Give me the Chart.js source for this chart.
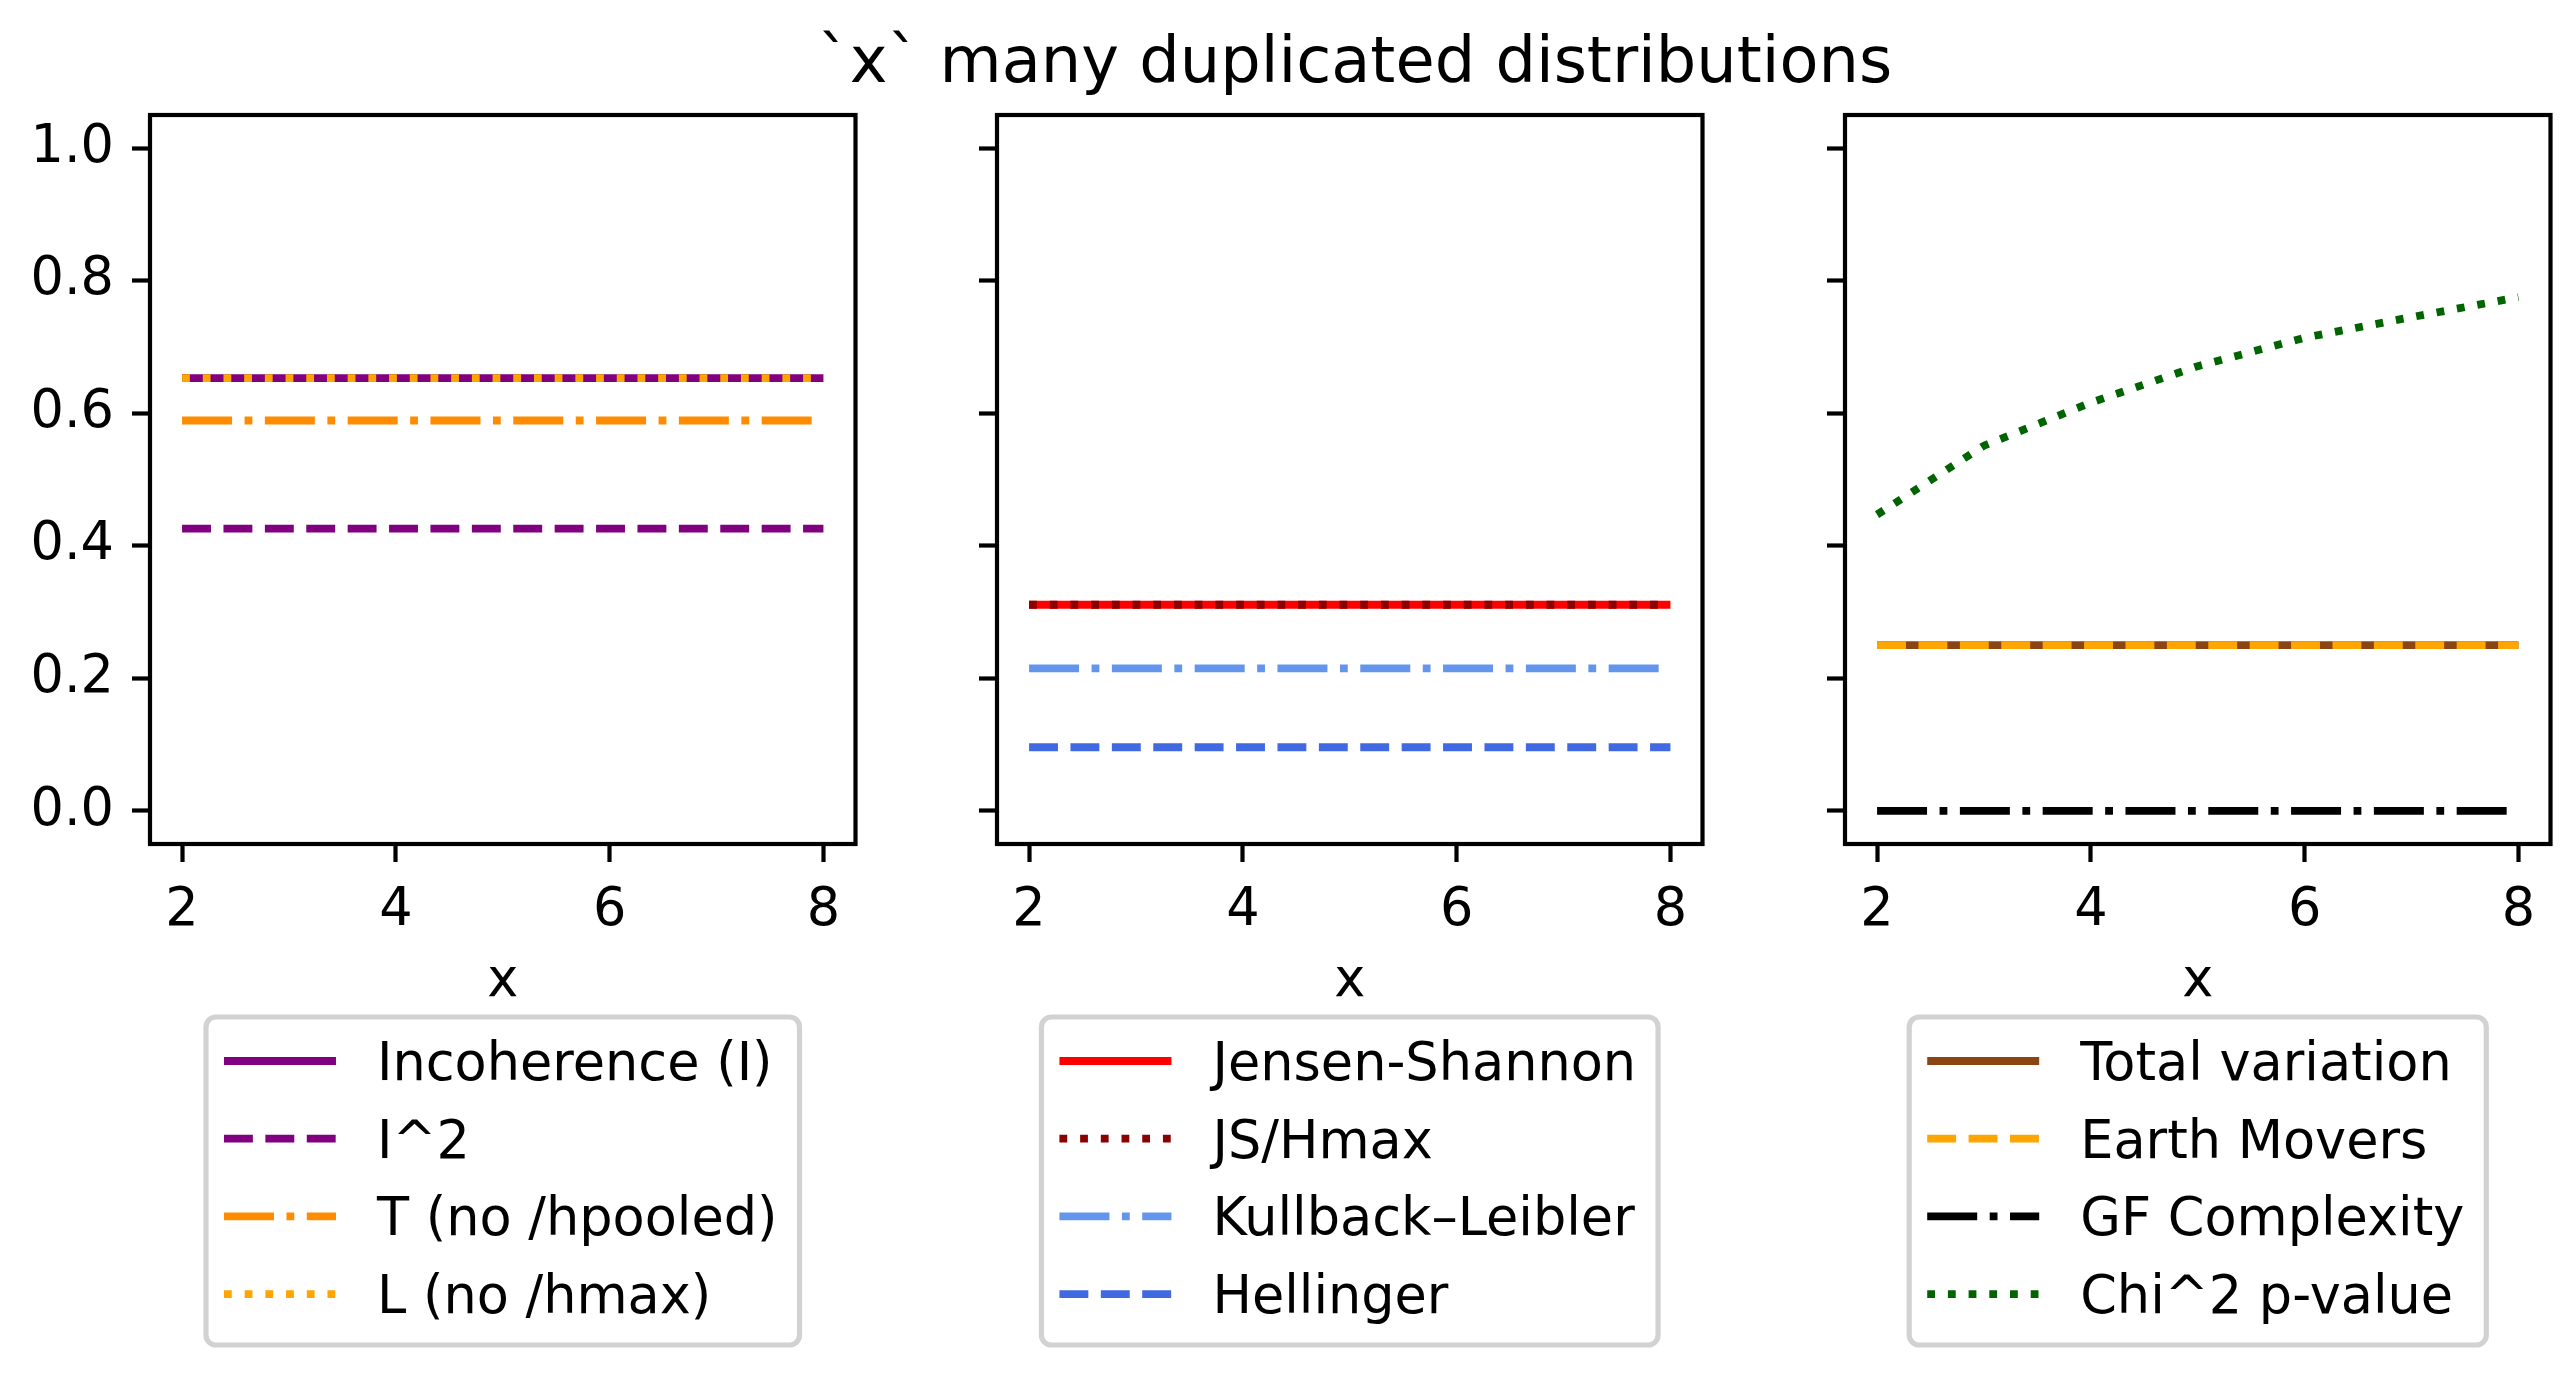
<!DOCTYPE html>
<html>
<head>
<meta charset="utf-8">
<title>`x` many duplicated distributions</title>
<script src="https://cdn.jsdelivr.net/npm/chart.js@4.4.1/dist/chart.umd.min.js"></script>
<style>
  html, body { margin: 0; padding: 0; background: #fff; }
  #wrap { position: relative; width: 2572px; height: 1375px; }
  #wrap canvas { position: absolute; left: 0; top: 0; }
</style>
</head>
<body>
<div id="wrap">
  <canvas id="c1" width="2572" height="1375"></canvas>
  <canvas id="c2" width="2572" height="1375"></canvas>
  <canvas id="c3" width="2572" height="1375"></canvas>
</div>
<script>
// valori
var xValues = [2, 3, 4, 5, 6, 7, 8];
var xTicks = [2, 4, 6, 8];
var yTicks = [0, 0.2, 0.4, 0.6, 0.8, 1.0];

var incoherence = [0.653, 0.653, 0.653, 0.653, 0.653, 0.653, 0.653];
var iSquared = [0.426, 0.426, 0.426, 0.426, 0.426, 0.426, 0.426];
var tNoHpooled = [0.589, 0.589, 0.589, 0.589, 0.589, 0.589, 0.589];
var lNoHmax = [0.653, 0.653, 0.653, 0.653, 0.653, 0.653, 0.653];

var jensenShannon = [0.311, 0.311, 0.311, 0.311, 0.311, 0.311, 0.311];
var jsHmax = [0.311, 0.311, 0.311, 0.311, 0.311, 0.311, 0.311];
var kullbackLeibler = [0.215, 0.215, 0.215, 0.215, 0.215, 0.215, 0.215];
var hellinger = [0.096, 0.096, 0.096, 0.096, 0.096, 0.096, 0.096];

var totalVariation = [0.25, 0.25, 0.25, 0.25, 0.25, 0.25, 0.25];
var earthMovers = [0.25, 0.25, 0.25, 0.25, 0.25, 0.25, 0.25];
var gfComplexity = [0, 0, 0, 0, 0, 0, 0];
var chi2PValue = [0.447, 0.551, 0.616, 0.671, 0.714, 0.745, 0.775];

var titleText = '`x` many duplicated distributions';

// stili delle linee (come matplotlib, lw 1.5)
var lw = 7.8;
var dashes = {
  solid: [],
  dashed: [28.9, 12.5],
  dashdot: [50, 12.5, 7.8, 12.5],
  dotted: [7.8, 12.9]
};

// posizione dei pannelli
var panelLefts = [150, 997, 1845];
var panelWidth = 705.5;
var areaTop = 115;
var areaBottom = 844;
var yAxisWidth = 150;
var xAxisHeight = 170;
var fontFamily = '"DejaVu Sans", "Liberation Sans", sans-serif';
var fontSize = 52.5;

function serie(label, values, color, dash) {
  return {
    label: label,
    data: xValues.map(function (x, i) { return { x: x, y: values[i] }; }),
    borderColor: color,
    backgroundColor: color,
    borderWidth: lw,
    borderDash: dashes[dash],
    borderCapStyle: 'butt',
    pointRadius: 0,
    tension: 0,
    fill: false
  };
}

function roundedBox(ctx, x, y, w, h, r) {
  ctx.beginPath();
  ctx.moveTo(x + r, y);
  ctx.arcTo(x + w, y, x + w, y + h, r);
  ctx.arcTo(x + w, y + h, x, y + h, r);
  ctx.arcTo(x, y + h, x, y, r);
  ctx.arcTo(x, y, x + w, y, r);
  ctx.closePath();
}

// cornice, legenda e titolo
var panelExtras = {
  id: 'panelExtras',
  afterDraw: function (chart, args, opts) {
    var ctx = chart.ctx;
    var a = chart.chartArea;
    ctx.save();

    ctx.setLineDash([]);
    ctx.strokeStyle = '#000';
    ctx.lineWidth = 4.2;
    ctx.strokeRect(a.left, a.top, a.right - a.left, a.bottom - a.top);

    var ds = chart.data.datasets;
    ctx.font = fontSize + 'px ' + fontFamily;
    var maxW = 0;
    ds.forEach(function (d) {
      maxW = Math.max(maxW, ctx.measureText(d.label).width);
    });
    var boxW = 18 + 112 + 41 + maxW + 22;
    var bx = (a.left + a.right) / 2 - boxW / 2;
    var by = 1017;
    var bh = 328;
    roundedBox(ctx, bx, by, boxW, bh, 10);
    ctx.fillStyle = 'rgba(255,255,255,0.8)';
    ctx.fill();
    ctx.lineWidth = 5.2;
    ctx.strokeStyle = '#d2d2d2';
    ctx.stroke();

    ds.forEach(function (d, i) {
      var y = 1061 + i * 77.7;
      ctx.beginPath();
      ctx.setLineDash(d.borderDash);
      ctx.lineCap = 'butt';
      ctx.strokeStyle = d.borderColor;
      ctx.lineWidth = d.borderWidth;
      ctx.moveTo(bx + 18, y);
      ctx.lineTo(bx + 130, y);
      ctx.stroke();
      ctx.setLineDash([]);
      ctx.fillStyle = '#000';
      ctx.textAlign = 'left';
      ctx.textBaseline = 'alphabetic';
      ctx.fillText(d.label, bx + 171, y + 19);
    });

    if (opts && opts.title) {
      ctx.font = '63.8px ' + fontFamily;
      ctx.fillStyle = '#000';
      ctx.textAlign = 'center';
      ctx.textBaseline = 'alphabetic';
      ctx.fillText(opts.title, 1355, 82);
    }
    ctx.restore();
  }
};

function creaPannello(canvasId, index, datasets, showYLabels, title) {
  var left = panelLefts[index];
  var ctx = document.getElementById(canvasId).getContext('2d');
  var n = datasets.length;
  // il primo dataset va disegnato sotto, come in matplotlib
  datasets.forEach(function (d, i) { d.order = n - i; });

  return new Chart(ctx, {
    type: 'line',
    data: { datasets: datasets },
    plugins: [panelExtras],
    options: {
      responsive: false,
      animation: false,
      devicePixelRatio: 1,
      layout: {
        autoPadding: false,
        padding: {
          left: left - yAxisWidth,
          right: 2572 - (left + panelWidth),
          top: areaTop,
          bottom: 1375 - areaBottom - xAxisHeight
        }
      },
      plugins: {
        legend: { display: false },
        tooltip: { enabled: false },
        panelExtras: { title: title }
      },
      scales: {
        x: {
          type: 'linear',
          min: 1.7,
          max: 8.3,
          afterBuildTicks: function (scale) {
            scale.ticks = xTicks.map(function (v) { return { value: v }; });
          },
          afterFit: function (scale) { scale.height = xAxisHeight; },
          border: { display: false },
          grid: {
            display: true,
            drawOnChartArea: false,
            drawTicks: true,
            tickLength: 18,
            tickWidth: 4.2,
            tickColor: '#000'
          },
          ticks: {
            color: '#000',
            padding: 18,
            maxRotation: 0,
            autoSkip: false,
            font: { family: fontFamily, size: fontSize },
            callback: function (v) { return String(v); }
          },
          title: {
            display: true,
            text: 'x',
            color: '#000',
            padding: { top: 0, bottom: 0 },
            font: { family: fontFamily, size: fontSize, lineHeight: 1.2 }
          }
        },
        y: {
          type: 'linear',
          min: -0.05,
          max: 1.05,
          afterBuildTicks: function (scale) {
            scale.ticks = yTicks.map(function (v) { return { value: v }; });
          },
          afterFit: function (scale) { scale.width = yAxisWidth; },
          border: { display: false },
          grid: {
            display: true,
            drawOnChartArea: false,
            drawTicks: true,
            tickLength: 18,
            tickWidth: 4.2,
            tickColor: '#000'
          },
          ticks: {
            display: showYLabels,
            color: '#000',
            padding: 18,
            autoSkip: false,
            font: { family: fontFamily, size: fontSize },
            callback: function (v) { return v.toFixed(1); }
          }
        }
      }
    }
  });
}

creaPannello('c1', 0, [
  serie('Incoherence (I)', incoherence, '#800080', 'solid'),
  serie('I^2', iSquared, '#800080', 'dashed'),
  serie('T (no /hpooled)', tNoHpooled, '#FF8C00', 'dashdot'),
  serie('L (no /hmax)', lNoHmax, '#FFA500', 'dotted')
], true, null);

creaPannello('c2', 1, [
  serie('Jensen-Shannon', jensenShannon, '#FF0000', 'solid'),
  serie('JS/Hmax', jsHmax, '#8B0000', 'dotted'),
  serie('Kullback\u2013Leibler', kullbackLeibler, '#6495ED', 'dashdot'),
  serie('Hellinger', hellinger, '#4169E1', 'dashed')
], false, titleText);

creaPannello('c3', 2, [
  serie('Total variation', totalVariation, '#8B4513', 'solid'),
  serie('Earth Movers', earthMovers, '#FFA500', 'dashed'),
  serie('GF Complexity', gfComplexity, '#000000', 'dashdot'),
  serie('Chi^2 p-value', chi2PValue, '#006400', 'dotted')
], false, null);
</script>
</body>
</html>
